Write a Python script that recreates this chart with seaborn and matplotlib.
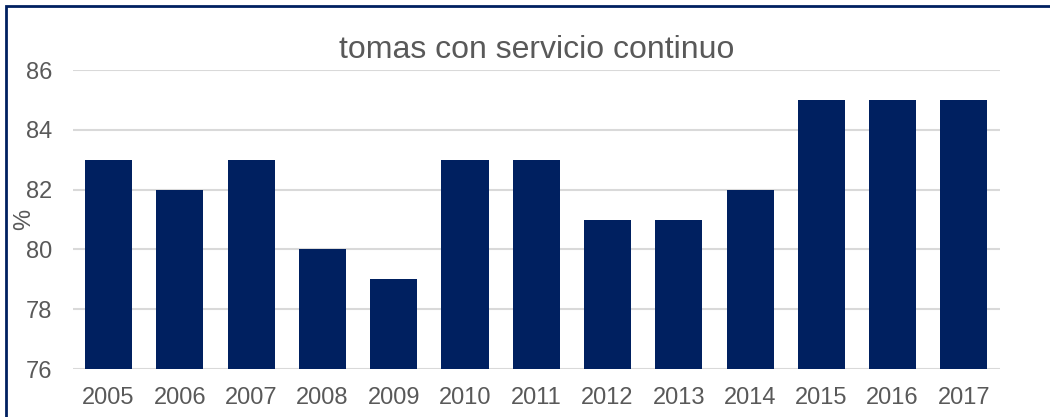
import matplotlib
matplotlib.use('Agg')
import matplotlib.pyplot as plt
import seaborn as sns
import pandas as pd
from matplotlib.patches import Rectangle

years = ['2005', '2006', '2007', '2008', '2009', '2010', '2011',
         '2012', '2013', '2014', '2015', '2016', '2017']
values = [83, 82, 83, 80, 79, 83, 83, 81, 81, 82, 85, 85, 85]

df = pd.DataFrame({'year': years, 'pct': values})

sns.set_theme(style='white')
plt.rcParams['font.family'] = ['Liberation Sans', 'DejaVu Sans']

text_color = '#595959'
grid_color = '#D9D9D9'
bar_color = '#002060'

fig = plt.figure(figsize=(10.5, 4.17), dpi=100)
ax = fig.add_axes([0.0695, 0.115, 0.8825, 0.717])

sns.barplot(data=df, x='year', y='pct', color=bar_color, saturation=1,
            width=0.66, linewidth=0, ax=ax, zorder=3)

ax.set_ylim(76, 86)
ax.set_yticks([76, 78, 80, 82, 84, 86])
ax.set_xlim(-0.5, len(years) - 0.5)
ax.yaxis.grid(True, color=grid_color, linewidth=1.5, zorder=0)
ax.set_axisbelow(True)
for s in ax.spines.values():
    s.set_visible(False)
ax.tick_params(axis='x', length=0, labelsize=17, colors=text_color, pad=13)
ax.tick_params(axis='y', length=0, labelsize=17, colors=text_color, pad=15)
ax.set_xlabel('')
ax.set_ylabel('%', fontsize=17, color=text_color)
ax.yaxis.set_label_coords(-0.041, 0.5)
ax.set_title('tomas con servicio continuo', fontsize=23, color=text_color, pad=9)

# chart frame
fig.patches.append(Rectangle((6 / 1050, -0.1), 1.2, (417 - 6) / 417 + 0.1,
                             transform=fig.transFigure, fill=False,
                             edgecolor='#002060', linewidth=2))

fig.savefig('out.png', dpi=100)
